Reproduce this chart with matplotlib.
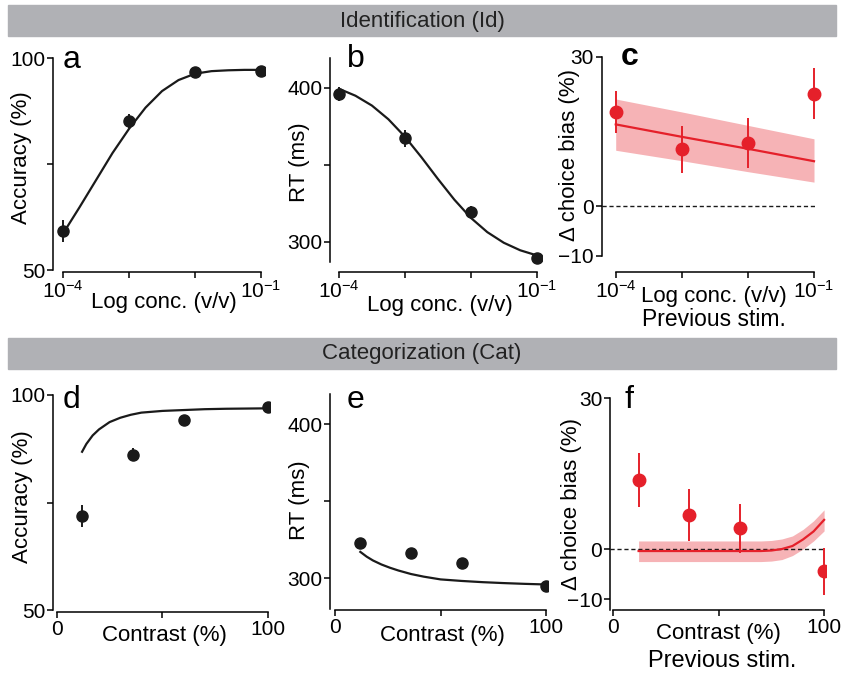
import numpy as np
import matplotlib
matplotlib.use("Agg")
import matplotlib.pyplot as plt
from matplotlib.ticker import NullLocator

plt.rcParams['font.family'] = ['Liberation Sans', 'DejaVu Sans']
plt.rcParams['mathtext.default'] = 'regular'

W, H = 845, 674
BLACK = '#1a1a1a'
RED = '#e5202a'
PINK = '#f6b3b6'
GRAY = '#b0b1b5'

# ---- identification (odor), log concentration
conc = [1e-4, 1e-3, 1e-2, 1e-1]
id_acc = [59.2, 85.1, 96.6, 97.0]
id_acc_err = [2.5, 1.6, 0.5, 0.4]
id_rt = [395.9, 367.1, 319.5, 289.2]
id_rt_err = [4.6, 5.4, 3.8, 1.0]
id_bias = [18.9, 11.4, 12.7, 22.6]
id_bias_err = [4.3, 4.7, 5.0, 5.2]

# fitted curves
fit_conc = [1e-4, 10**-3.75, 10**-3.5, 10**-3.25, 1e-3, 10**-2.75, 10**-2.5,
            10**-2.25, 1e-2, 10**-1.75, 10**-1.5, 10**-1.25, 1e-1]
id_acc_fit = [58.6, 64.8, 71.2, 77.6, 83.3, 88.3, 92.2, 94.8, 96.3, 96.9, 97.1, 97.2, 97.2]
id_rt_fit = [399.3, 394.8, 388.4, 379.5, 368.2, 354.9, 340.8, 327.3, 315.5,
             306.2, 299.3, 294.4, 291.1]
id_bias_fit = [16.4, 13.9, 11.5, 9.0]
id_bias_lo = [11.2, 9.1, 6.9, 4.8]
id_bias_hi = [21.5, 18.9, 16.2, 13.5]

# ---- categorization (visual), contrast
contrast = [12, 36, 60, 100]
cat_acc = [71.9, 86.1, 94.1, 97.3]
cat_acc_err = [2.6, 1.5, 0.6, 0.3]
cat_rt = [322.8, 316.5, 309.8, 295.0]
cat_rt_err = [1.2, 1.0, 1.0, 0.8]
cat_bias = [13.8, 6.8, 4.1, -4.4]
cat_bias_err = [5.4, 5.2, 4.8, 4.7]

acc_fit_x = [12, 14, 17, 20, 25, 30, 35, 40, 50, 60, 70, 80, 90, 100]
cat_acc_fit = [86.8, 88.6, 90.6, 92.0, 93.7, 94.7, 95.4, 95.9, 96.3, 96.5, 96.7, 96.8, 96.85, 96.9]
rt_fit_x = [12, 15, 18, 22, 26, 30, 36, 42, 50, 60, 70, 80, 90, 100]
cat_rt_fit = [317.1, 314.0, 311.5, 308.9, 306.8, 305.0, 302.7, 301.0, 299.2,
              298.2, 297.4, 296.8, 296.3, 295.9]
bias_fit_x = [12, 20, 30, 40, 50, 60, 70, 75, 80, 85, 90, 95, 100]
cat_bias_fit = [-0.4, -0.4, -0.4, -0.4, -0.4, -0.4, -0.4, -0.3, 0.0, 0.6, 1.9, 3.5, 5.8]
cat_bias_lo = [-2.5, -2.5, -2.5, -2.5, -2.5, -2.5, -2.5, -2.4, -2.1, -1.3, 0.0, 1.6, 3.6]
cat_bias_hi = [1.6, 1.6, 1.6, 1.6, 1.6, 1.6, 1.6, 1.7, 2.0, 2.6, 3.9, 5.6, 7.8]


fig = plt.figure(figsize=(W / 100, H / 100), dpi=100)


def px_axes(x0, y0, x1, y1):
    return fig.add_axes([x0 / W, 1 - y1 / H, (x1 - x0) / W, (y1 - y0) / H])


def ftext(x, y, s, **kw):
    fig.text(x / W, 1 - y / H, s, **kw)


def style(ax):
    for side in ['top', 'right']:
        ax.spines[side].set_visible(False)
    for side in ['left', 'bottom']:
        ax.spines[side].set_linewidth(1.1)
    ax.tick_params(direction='out', length=4, width=1.1, labelsize=15, pad=1.5)
    ax.xaxis.set_minor_locator(NullLocator())
    ax.yaxis.set_minor_locator(NullLocator())


def log_x(ax, left, right):
    ax.set_xscale('log')
    ax.set_xlim(10**left, 10**right)
    ax.xaxis.set_minor_locator(NullLocator())
    ax.set_xticks(conc)
    ax.set_xticklabels([r'$10^{-4}$', '', '', r'$10^{-1}$'])
    ax.spines['bottom'].set_bounds(conc[0], conc[-1])


def lin_x(ax, left, right):
    ax.set_xlim(left, right)
    ax.set_xticks([0, 50, 100])
    ax.set_xticklabels(['0', '', '100'])
    ax.spines['bottom'].set_bounds(0, 100)


def dots(ax, x, y, err, color, ms):
    ax.errorbar(x, y, yerr=err, fmt='o', color=color, ms=ms, elinewidth=1.4,
                capsize=0, zorder=4)


# header bars
for top, label in [(5, 'Identification (Id)'), (338, 'Categorization (Cat)')]:
    fig.patches.append(plt.Rectangle((8 / W, 1 - (top + 31) / H), 828 / W, 31 / H,
                                     transform=fig.transFigure, color=GRAY, zorder=0))
    ftext(422, top + 16, label, ha='center', va='center', fontsize=16,
          family=['Liberation Sans Narrow', 'Liberation Sans'], color='#222222')

# a
ax = px_axes(53, 58, 265, 272)
style(ax)
log_x(ax, -4.152, -0.94)
ax.set_ylim(49.53, 100)
ax.set_yticks([50, 75, 100])
ax.set_yticklabels(['50', '', '100'])
ax.spines['left'].set_bounds(50, 100)
ax.plot(fit_conc, id_acc_fit, color=BLACK, lw=1.6)
dots(ax, conc, id_acc, id_acc_err, BLACK, 8)
ftext(22, 158, 'Accuracy (%)', rotation=90, ha='center', va='center', fontsize=16)
ftext(164, 303, 'Log conc. (v/v)', ha='center', va='center', fontsize=16)
ftext(63, 68, 'a', fontsize=23)

# b
ax = px_axes(330, 58, 542, 272)
style(ax)
log_x(ax, -4.136, -0.92)
ax.set_ylim(280.3, 419.3)
ax.set_yticks([300, 350, 400])
ax.set_yticklabels(['300', '', '400'])
ax.spines['left'].set_bounds(287, 419.3)
ax.plot(fit_conc, id_rt_fit, color=BLACK, lw=1.6)
dots(ax, conc, id_rt, id_rt_err, BLACK, 8)
ftext(299, 162, 'RT (ms)', rotation=90, ha='center', va='center', fontsize=16)
ftext(440, 305, 'Log conc. (v/v)', ha='center', va='center', fontsize=16)
ftext(347, 67, 'b', fontsize=23)

# c
ax = px_axes(601.7, 56.7, 822, 272)
style(ax)
log_x(ax, -4.212, -0.879)
ax.set_ylim(-13.26, 30)
ax.set_yticks([-10, 0, 30])
ax.set_yticklabels(['\u221210', '0', '30'])
ax.spines['left'].set_bounds(-10, 30)
ax.fill_between(conc, id_bias_lo, id_bias_hi, color=PINK, lw=0, zorder=1)
ax.plot(conc, id_bias_fit, color=RED, lw=1.6, zorder=2)
ax.axhline(0, xmin=0, xmax=0.975, color=BLACK, lw=1, ls=(0, (3, 2)), zorder=1)
dots(ax, conc, id_bias, id_bias_err, RED, 9)
ftext(570, 155, '\u0394 choice bias (%)', rotation=90, ha='center', va='center', fontsize=16)
ftext(714, 296, 'Log conc. (v/v)', ha='center', va='center', fontsize=16)
ftext(714, 319, 'Previous stim.', ha='center', va='center', fontsize=16.5)
ftext(621, 65, 'c', fontsize=23, weight='bold')

# d
ax = px_axes(53.3, 395, 270, 612.3)
style(ax)
lin_x(ax, -1.6, 100.8)
ax.set_ylim(49.47, 100)
ax.set_yticks([50, 75, 100])
ax.set_yticklabels(['50', '', '100'])
ax.spines['left'].set_bounds(50, 100)
ax.plot(acc_fit_x, cat_acc_fit, color=BLACK, lw=1.6)
dots(ax, contrast, cat_acc, cat_acc_err, BLACK, 8)
ftext(23, 497, 'Accuracy (%)', rotation=90, ha='center', va='center', fontsize=16)
ftext(164, 636, 'Contrast (%)', ha='center', va='center', fontsize=16)
ftext(63, 408, 'd', fontsize=23)

# e
ax = px_axes(330, 394.3, 548, 610)
style(ax)
lin_x(ax, -2.37, 100.9)
ax.set_ylim(279.3, 419.6)
ax.set_yticks([300, 350, 400])
ax.set_yticklabels(['300', '', '400'])
ax.spines['left'].set_bounds(280, 419.6)
ax.plot(rt_fit_x, cat_rt_fit, color=BLACK, lw=1.6)
dots(ax, contrast, cat_rt, cat_rt_err, BLACK, 8)
ftext(299, 500, 'RT (ms)', rotation=90, ha='center', va='center', fontsize=16)
ftext(442, 636, 'Contrast (%)', ha='center', va='center', fontsize=16)
ftext(347, 408, 'e', fontsize=23)

# f
ax = px_axes(610, 398.3, 826, 610)
style(ax)
lin_x(ax, -1.56, 100.9)
ax.set_ylim(-12.14, 30)
ax.set_yticks([-10, 0, 30])
ax.set_yticklabels(['\u221210', '0', '30'])
ax.fill_between(bias_fit_x, cat_bias_lo, cat_bias_hi, color=PINK, lw=0, zorder=1)
ax.plot(bias_fit_x, cat_bias_fit, color=RED, lw=1.6, zorder=2)
ax.plot([ax.get_xlim()[0], 100], [0, 0], color=BLACK, lw=1, ls=(0, (3, 2)), zorder=1)
dots(ax, contrast, cat_bias, cat_bias_err, RED, 9)
ftext(572, 504, '\u0394 choice bias (%)', rotation=90, ha='center', va='center', fontsize=16)
ftext(718, 634, 'Contrast (%)', ha='center', va='center', fontsize=16)
ftext(722, 661, 'Previous stim.', ha='center', va='center', fontsize=17)
ftext(625, 408, 'f', fontsize=23)

fig.savefig('out.png', dpi=100)
